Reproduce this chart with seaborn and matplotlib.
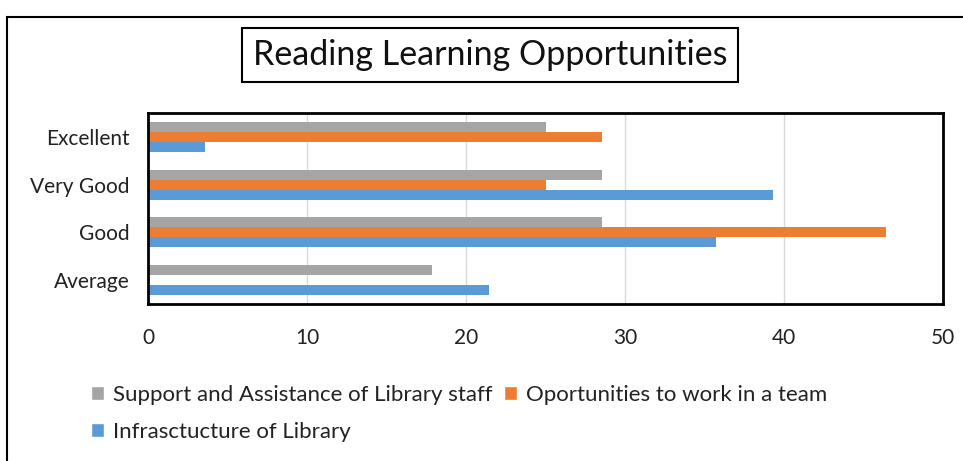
import matplotlib
matplotlib.use("Agg")
import matplotlib.pyplot as plt
from matplotlib.patches import Rectangle, Patch
import seaborn as sns
import pandas as pd

categories = ["Excellent", "Very Good", "Good", "Average"]
series_names = ["Support and Assistance of Library staff",
                "Oportunities to work in a team",
                "Infrasctucture of Library"]
support_staff = [25.0, 28.57, 28.57, 17.86]
team_work = [28.57, 25.0, 46.43, 0.0]
infrastructure = [3.57, 39.29, 35.71, 21.43]
x_ticks = [0, 10, 20, 30, 40, 50]
colors = ["#A5A5A5", "#ED7D31", "#5B9BD5"]
title = "Reading Learning Opportunities"

rows = []
for name, vals in zip(series_names, [support_staff, team_work, infrastructure]):
    for c, v in zip(categories, vals):
        rows.append({"category": c, "series": name, "value": v})
df = pd.DataFrame(rows)

sns.set_theme(style="white")
plt.rcParams["font.family"] = ["Lato", "DejaVu Sans"]

fig = plt.figure(figsize=(9.63, 4.61), dpi=100)
ax = fig.add_axes([148/963, 1-304/461, (943-148)/963, (304-113)/461])

sns.barplot(data=df, y="category", x="value", hue="series",
            order=categories, hue_order=series_names,
            palette=colors, width=0.63, orient="h", ax=ax,
            saturation=1, legend=False, edgecolor="none")

ax.set_xlim(0, 50)
ax.set_xticks(x_ticks)
ax.set_xticklabels([str(t) for t in x_ticks])
ax.set_xlabel("")
ax.set_ylabel("")
ax.grid(axis="x", color="#D9D9D9", linewidth=1)
ax.set_axisbelow(True)
for s in ax.spines.values():
    s.set_visible(True)
    s.set_color("black")
    s.set_linewidth(2)
ax.tick_params(axis="x", length=0, pad=17, labelsize=15, colors="#222222")
ax.tick_params(axis="y", length=0, pad=13, labelsize=15, colors="#222222")

# outer chart border
fig.patches.append(Rectangle((7/963, -0.05), 1.05, 1-17/461+0.05,
                             transform=fig.transFigure, fill=False,
                             edgecolor="black", linewidth=1.5))

fig.text(490/963, 1-55/461, title, ha="center", va="center", fontsize=24.5,
         color="#111111",
         bbox=dict(boxstyle="square,pad=0.32", facecolor="white",
                   edgecolor="black", linewidth=1.5))

handles = [Patch(facecolor=colors[0]), Patch(facecolor=colors[2]),
           Patch(facecolor=colors[1])]
labels = [series_names[0], series_names[2], series_names[1]]
fig.legend(handles, labels, ncol=2, loc="upper left",
           bbox_to_anchor=(82/963, 1-376/461), frameon=False,
           fontsize=16, handlelength=0.6, handleheight=0.6,
           handletextpad=0.4, columnspacing=0.5, labelspacing=0.75,
           borderaxespad=0, labelcolor="#222222")

fig.savefig("out.png", dpi=100)
